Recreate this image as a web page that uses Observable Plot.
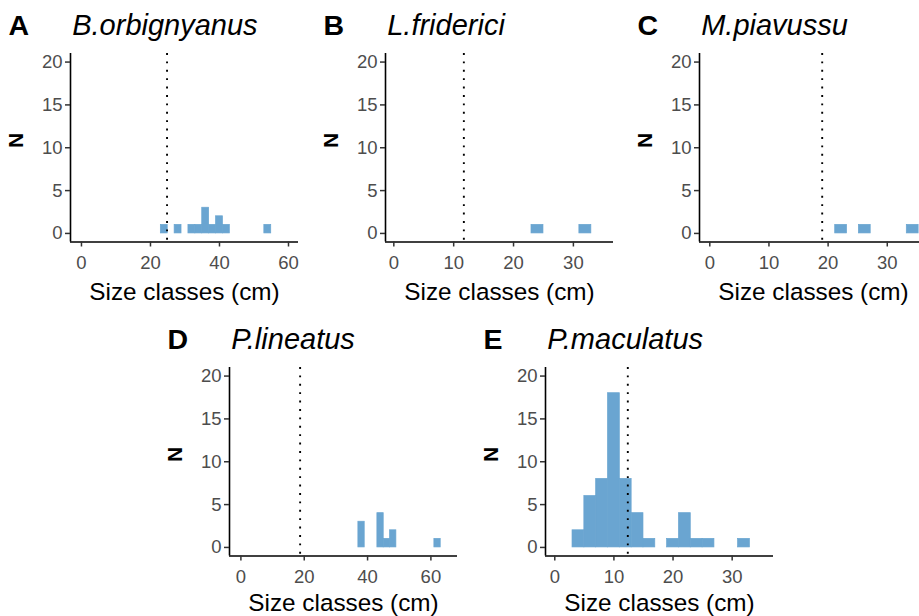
<!DOCTYPE html>
<html><head><meta charset="utf-8">
<script src="https://cdn.jsdelivr.net/npm/d3@7"></script>
<script src="https://cdn.jsdelivr.net/npm/@observablehq/plot@0.6"></script>
<style>
body{margin:0;background:#fff;}
#chart{position:relative;width:919px;height:616px;overflow:hidden;background:#fff;}
#chart svg{position:absolute;}
</style></head><body><div id="chart"></div>
<script>
// ---- data ----
const panelLetters = ["A", "B", "C", "D", "E"];
const speciesNames = ["B.orbignyanus", "L.friderici", "M.piavussu", "P.lineatus", "P.maculatus"];
const binWidth = 2;
const binStartsA = [23, 27, 31, 33, 35, 37, 39, 41, 53];
const countsA    = [1, 1, 1, 1, 3, 1, 2, 1, 1];
const binStartsB = [23, 31];
const countsB    = [1, 1];
const binStartsC = [21.2, 25.2, 33.3];
const countsC    = [1, 1, 1];
const binStartsD = [37.1, 43.1, 45.1, 47.1, 61.1];
const countsD    = [3, 4, 1, 2, 1];
const binStartsE = [3, 5, 7, 9, 11, 13, 15, 19, 21, 23, 25, 31];
const countsE    = [2, 6, 8, 18, 8, 4, 1, 1, 4, 1, 1, 1];
const thresholds = [24.8, 11.7, 19.0, 18.7, 12.35];
const xTicksA = [0, 20, 40, 60];
const xTicksB = [0, 10, 20, 30];
const xTicksC = [0, 10, 20, 30];
const xTicksD = [0, 20, 40, 60];
const xTicksE = [0, 10, 20, 30];
const yTicks = [0, 5, 10, 15, 20];
const xTitle = "Size classes (cm)";
const yTitle = "N";

// ---- layout ----
const FONT = "'Liberation Sans', Arial, Helvetica, sans-serif";
const ML = 75, MR = 10, MT = 55, MB = 70, FW = 228, FH = 188.5;
const panels = [
  {bins: binStartsA, counts: countsA, ticks: xTicksA, domain: [-3.18, 62.9], left: 70, top: 52.7, titleDy: 57.5},
  {bins: binStartsB, counts: countsB, ticks: xTicksB, domain: [-1.39, 36.7], left: 385, top: 52.7, titleDy: 57.5},
  {bins: binStartsC, counts: countsC, ticks: xTicksC, domain: [-1.74, 36.8], left: 699, top: 52.7, titleDy: 57.5},
  {bins: binStartsD, counts: countsD, ticks: xTicksD, domain: [-3.6, 68.4], left: 229.3, top: 366.6, titleDy: 54.5},
  {bins: binStartsE, counts: countsE, ticks: xTicksE, domain: [-1.57, 36.99], left: 545, top: 366.6, titleDy: 54.5}
];
const BAR = "#6aa5d1";
const chart = document.getElementById("chart");

panels.forEach((p, i) => {
  const rows = p.bins.map((b, j) => ({x1: b, x2: b + binWidth, n: p.counts[j]}));
  const svg = Plot.plot({
    width: ML + FW + MR, height: MT + FH + MB,
    marginLeft: ML, marginRight: MR, marginTop: MT, marginBottom: MB,
    style: {fontFamily: FONT, background: "transparent", overflow: "visible"},
    x: {domain: p.domain},
    y: {domain: [-1, 21]},
    marks: [
      Plot.rectY(rows, {x1: "x1", x2: "x2", y1: 0, y2: "n", fill: BAR, stroke: BAR, strokeWidth: 0.7}),
      Plot.ruleX([thresholds[i]], {stroke: "black", strokeWidth: 1.9, strokeDasharray: "1.9,6.5"}),
      Plot.ruleX([p.domain[0]], {stroke: "black", strokeWidth: 1.6}),
      Plot.ruleY([-1], {stroke: "black", strokeWidth: 1.6}),
      Plot.axisX({ticks: p.ticks, tickSize: 5, tickPadding: 9, fontSize: 18.5, stroke: "#333", fill: "#4d4d4d", strokeWidth: 1.5, label: null}),
      Plot.axisY({ticks: yTicks, tickSize: 5, tickPadding: 3, fontSize: 18.5, stroke: "#333", fill: "#4d4d4d", strokeWidth: 1.5, label: null}),
      Plot.text([xTitle], {text: d => d, frameAnchor: "bottom", dy: p.titleDy, lineAnchor: "bottom", fontSize: 24.3, fill: "black"}),
      Plot.text([yTitle], {text: d => d, frameAnchor: "left", dx: -54, rotate: -90, lineAnchor: "middle", fontSize: 20.5, fontWeight: "bold", fill: "black"}),
      Plot.text([panelLetters[i]], {text: d => d, frameAnchor: "top-left", dx: -62, dy: -18.7, textAnchor: "start", lineAnchor: "bottom", fontWeight: "bold", fontSize: 28.5, fill: "black"}),
      Plot.text([speciesNames[i]], {text: d => d, frameAnchor: "top-left", dx: 1.7, dy: -18.7, textAnchor: "start", lineAnchor: "bottom", fontStyle: "italic", fontSize: 29, fill: "black"})
    ]
  });
  svg.style.left = (p.left - ML) + "px";
  svg.style.top = (p.top - MT) + "px";
  chart.appendChild(svg);
});
</script></body></html>
